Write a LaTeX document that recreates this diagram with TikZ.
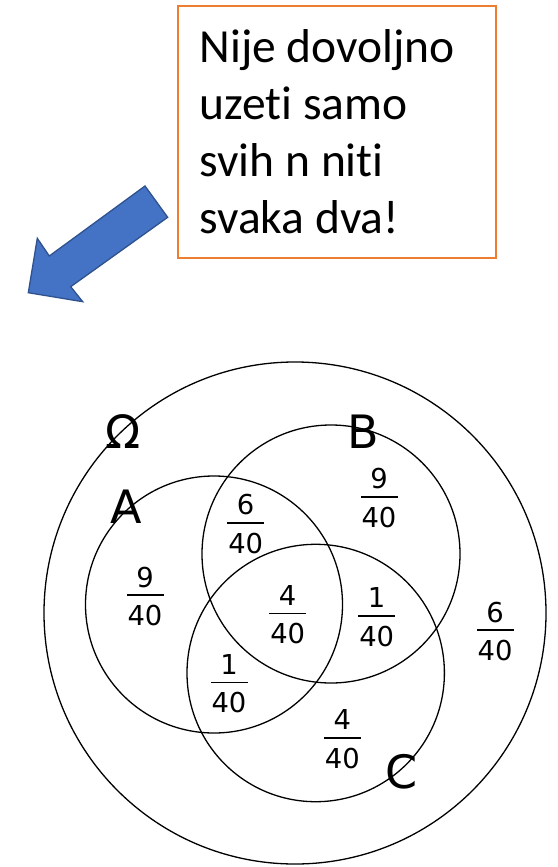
\documentclass[tikz,border=0pt]{standalone}
\usepackage{fontspec}
\setmainfont{DejaVu Sans}
\newfontfamily\boxfont[Ligatures=NoCommon]{Carlito}
\definecolor{noteorange}{HTML}{ED7D31}
\definecolor{arrowblue}{HTML}{4472C4}
\definecolor{arrowedge}{HTML}{2F528F}
\newcommand\vennfrac[5]{%
  \node[fracbar] (#1) at (#2,#3) {};
  \node[fractxt] (#1num) at ([yshift=17.7pt]#1.center) {#4};
  \node[fractxt] (#1den) at ([yshift=-20.7pt]#1.center) {#5};
}
\begin{document}
\begin{tikzpicture}[x=1pt,y=-1pt,
  venncircle/.style={circle, draw, line width=1.3pt, minimum size=#1, inner sep=0pt},
  setlabel/.style={font=\fontsize{46}{46}\selectfont, inner sep=0pt},
  fracbar/.style={fill=black, minimum width=37pt, minimum height=1.6pt, inner sep=0pt, outer sep=0pt},
  fractxt/.style={font=\fontsize{27.4}{28}\selectfont, inner sep=0pt},
  notebox/.style={draw=noteorange, line width=2pt, anchor=north west, inner sep=0pt},
  notetext/.style={font=\boxfont\fontsize{47.5}{57}\selectfont, align=left, inner sep=0pt, anchor=base west}
]
\useasboundingbox (0,0) rectangle (557,867);
% note box
\node[notebox, minimum width=317.7pt, minimum height=252.3pt] (note) at (177.3,5) {};
\node[notetext] (notetxt) at (199.3,233.3) {Nije dovoljno\\uzeti samo\\svih n niti\\svaka dva!};
% block arrow
\draw[fill=arrowblue, draw=arrowedge, line width=1.3pt, line join=miter]
  (28.3,292.7) -- (37.3,238.3) -- (49.3,256) -- (145,186) -- (167.7,217.3)
  -- (70.7,286.7) -- (82.7,301.7) -- cycle;
% Venn
\node[venncircle=502pt] (omega) at (295,613) {};
\node[venncircle=257pt] (A) at (214,604.5) {};
\node[venncircle=258pt] (B) at (331,554) {};
\node[venncircle=257.4pt] (C) at (315.7,673) {};
\node[setlabel] (omegalbl) at (123.3,431.7) {Ω};
\node[setlabel] (Blbl) at (363.3,431.7) {B};
\node[setlabel] (Albl) at (126,506.7) {A};
\node[setlabel] (Clbl) at (401.7,771.7) {C};
\vennfrac{fa}{145}{595}{9}{40}
\vennfrac{fab}{245.7}{522.7}{6}{40}
\vennfrac{fb}{379}{496.7}{9}{40}
\vennfrac{fabc}{287.7}{613.3}{4}{40}
\vennfrac{fbc}{376.7}{615.7}{1}{40}
\vennfrac{fout}{495}{630}{6}{40}
\vennfrac{fac}{229}{682.3}{1}{40}
\vennfrac{fc}{342.3}{737.7}{4}{40}
\end{tikzpicture}
\end{document}
